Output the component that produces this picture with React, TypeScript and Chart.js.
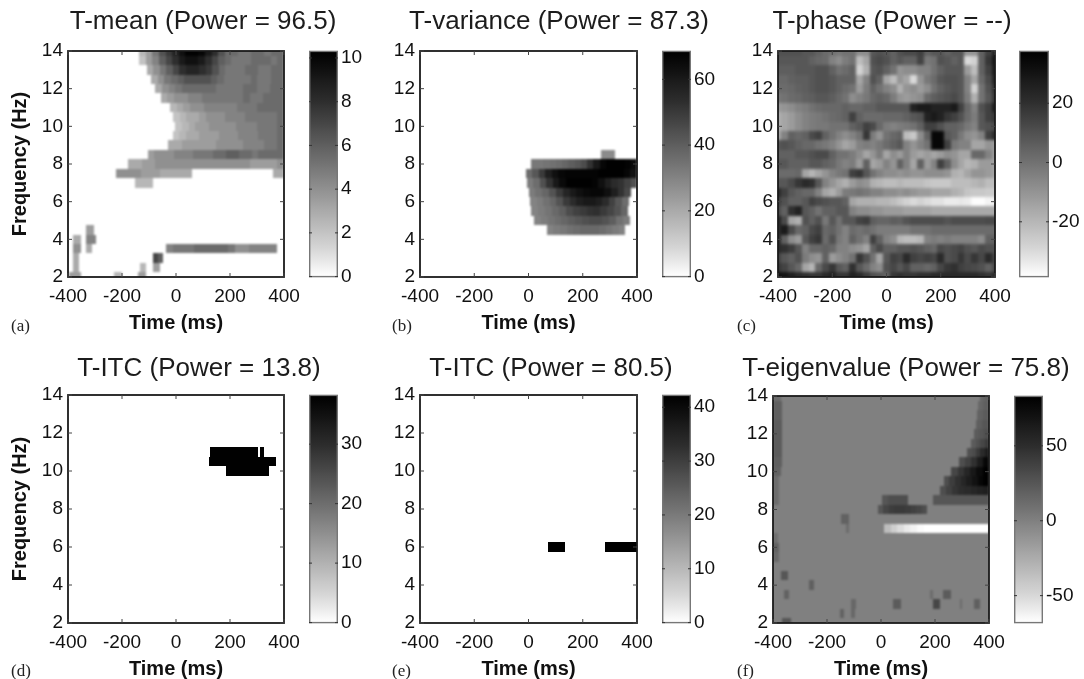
import React, { useEffect, useRef } from "react";
import { Chart, registerables } from "chart.js";

Chart.register(...registerables);

const FONT = "'Liberation Sans', Arial, sans-serif";
const INK = "#111";

const timeTicks = [-400, -200, 0, 200, 400];
const freqTicks = [2, 4, 6, 8, 10, 12, 14];

// span rows: [frequency Hz, from ms, to ms, ...cell values spread evenly over the span]
const meanSpans: number[][] = [
  [14, -136, 400, 2.5, 3.5, 5, 6.5, 7.5, 8.5, 9.5, 10.2, 10.2, 10, 9, 8, 6.5, 5.5, 5.5, 5, 5, 5.5, 5.5, 5, 5.5, 5.5],
  [13.5, -136, 400, 2, 3.5, 4.5, 6, 7, 8, 9, 9.5, 9.5, 9, 8, 7, 6, 5.5, 5, 5, 5, 5.5, 5.5, 5.5, 5, 5.5],
  [13, -108, 400, 3, 4, 5, 6, 7, 8, 8.5, 8.5, 8, 7.5, 6.5, 5.5, 5, 5, 5, 5.5, 5.5, 5, 5, 5.5, 5.5],
  [12.5, -93, 400, 3, 4, 5, 5.5, 6, 6.5, 6.5, 6.5, 6.5, 6, 5.5, 5, 5, 5, 5, 5.5, 5, 5, 5.5, 5.5],
  [12, -78, 400, 3, 4, 4.5, 5, 5.5, 5.5, 5.5, 5.5, 5.5, 5, 5, 5, 5, 5.5, 5.5, 5, 5, 5.5, 5.5],
  [11.5, -57, 400, 3, 3.5, 4, 4, 4.5, 4.5, 5, 5, 5, 5, 5, 5, 5.5, 5, 5, 5.5, 5.5, 5.5],
  [11, -22, 400, 2.5, 3, 3.5, 4, 4, 4.5, 4.5, 4.5, 4.5, 4.5, 5, 5, 5, 5.5, 5.5, 5.5, 5.5],
  [10.5, -10, 400, 2, 2.5, 3, 3, 3.5, 4, 4, 4, 4.5, 4.5, 4.5, 5, 5, 5, 5, 5, 5.5],
  [10, -4, 400, 2, 2.5, 3, 3.5, 3.5, 4, 4, 4, 4, 4.5, 4.5, 4.5, 5, 5, 5, 5.5],
  [9.5, -12, 400, 2, 2.5, 3, 3, 3.5, 3.5, 3.5, 4, 4, 4, 4.5, 4.5, 4.5, 5, 5, 5, 5.5],
  [9, -28, 400, 3, 3, 3.5, 3.5, 3.5, 3.5, 3.5, 4, 4, 4, 4, 4.5, 4.5, 4.5, 5, 5, 5.5],
  [8.5, -105, 400, 3.5, 4, 4, 4, 4.5, 4.5, 4.5, 5, 5, 5, 5.5, 5.5, 6, 6, 5.5, 5.5, 5, 5.5, 5.5, 5.5, 5.5],
  [8, -177, 400, 3, 3, 3.5, 3.5, 4, 4, 4, 4, 4, 4, 4, 4, 4, 4, 4, 4, 4, 4, 3.5, 3.5, 3.5, 3.5, 4],
  [7.5, -223, 58, 4, 4, 4, 4, 3.5, 3.5, 3.5, 3, 3, 3, 3, 3],
  [7.5, 358, 400, 3, 3],
  [7, -152, -86, 2.5, 2.5, 2.5],
  [4.5, -334, -302, 3.5],
  [4, -383, -352, 3],
  [4, -334, -298, 4.5],
  [3.5, -383, -352, 4],
  [3.5, -334, -312, 3],
  [3.5, -38, 375, 4.5, 5, 5, 5, 5.5, 5.5, 5.5, 5.5, 5.5, 5, 4, 4, 4.5, 4.5, 4.5, 4.5],
  [3, -383, -358, 3],
  [3, -86, -47, 7, 6],
  [2.5, -383, -358, 3],
  [2.5, -133, -111, 2.5],
  [2.5, -86, -59, 3.5],
  [2, -398, -352, 3.5],
  [2, -228, -201, 2.5],
  [2, -139, -111, 3.5],
];

const varianceSpans: number[][] = [
  [8.5, 267, 320, 28],
  [8, 9, 400, 33, 33, 34, 35, 36, 38, 40, 42, 45, 52, 60, 66, 68, 68, 68, 67, 64],
  [7.5, -11, 400, 36, 42, 50, 58, 63, 66, 67, 67, 67, 67, 67, 68, 68, 68, 68, 66, 62],
  [7, -6, 400, 32, 36, 44, 52, 60, 65, 68, 68, 68, 68, 67, 63, 58, 54, 52, 48, 44],
  [6.5, 0, 379, 32, 35, 38, 43, 50, 56, 60, 63, 65, 66, 66, 63, 58, 52, 46],
  [6, 6, 369, 30, 32, 35, 38, 43, 50, 54, 58, 60, 60, 58, 54, 48, 42, 36],
  [5.5, 10, 367, 30, 32, 34, 37, 40, 45, 48, 50, 52, 53, 50, 47, 43, 38],
  [5, 21, 373, 30, 32, 34, 36, 38, 40, 42, 44, 45, 45, 43, 40, 35, 32],
  [4.5, 68, 357, 30, 32, 33, 35, 36, 37, 37, 37, 36, 34, 32, 30],
];

const itcLowSpans: number[][] = [
  [11, 127, 304, 38],
  [11, 310, 326, 38],
  [10.5, 122, 372, 38],
  [10, 186, 345, 38],
];

const itcHighSpans: number[][] = [
  [6, 71, 135, 42.2],
  [6, 283, 400, 42.2],
];

const eigenSpans: number[][] = [
  [14, -400, -372, 12],
  [13.5, -400, -366, 20],
  [13, -400, -366, 20],
  [12.5, -400, -366, 22],
  [12, -400, -366, 22],
  [11.5, -400, -366, 22],
  [11, -400, -366, 22],
  [10.5, -400, -368, 20],
  [10, -400, -370, 18],
  [9.5, -400, -376, 12],
  [9, -400, -378, 12],
  [8.5, -400, -378, 12],
  [6.5, -400, -382, 10],
  [6, -400, -376, 18],
  [5.5, -400, -376, 14],
  [14, 365, 400, 15, 18],
  [13.5, 359, 400, 15, 20],
  [13, 356, 400, 18, 22],
  [12.5, 350, 400, 20, 25],
  [12, 343, 400, 22, 25, 30],
  [11.5, 335, 400, 22, 28, 35, 42],
  [11, 319, 400, 28, 32, 42, 52, 62],
  [10.5, 289, 400, 30, 38, 48, 62, 78],
  [10, 261, 400, 35, 45, 55, 65, 75, 83],
  [9.5, 232, 400, 30, 40, 48, 55, 62, 70, 78, 83],
  [9, 218, 400, 30, 38, 45, 50, 52, 55, 58, 60],
  [8.5, 2, 101, 25, 30, 30, 30],
  [8.5, 193, 400, 25, 25, 25, 25, 25, 25, 25, 25],
  [8, -12, 171, 25, 35, 40, 42, 42, 40, 38, 35, 30],
  [7.5, -149, -118, 18],
  [7, -128, -120, 12],
  [7, 12, 400, -35, -45, -52, -58, -62, -66, -68, -68, -68, -68, -68, -68, -68, -68, -68, -68],
  [4.5, -369, -345, 25],
  [4, -268, -250, 20],
  [3.5, -358, -342, 18],
  [3.5, 183, 193, 12],
  [3.5, 230, 261, 22],
  [3, -112, -94, 15],
  [3, 43, 73, 22],
  [3, 191, 220, 35],
  [3, 292, 299, 12],
  [3, 343, 365, 20],
  [2.5, -151, -137, 18],
  [2.5, -112, -96, 15],
  [2, -367, -332, 25],
];

// full grid: one row per 0.5 Hz from 14 Hz down to 2 Hz, one value every 25 ms
const phaseFreqs = [14, 13.5, 13, 12.5, 12, 11.5, 11, 10.5, 10, 9.5, 9, 8.5, 8, 7.5, 7, 6.5, 6, 5.5, 5, 4.5, 4, 3.5, 3, 2.5, 2];
const phaseTimes = [-400, -375, -350, -325, -300, -275, -250, -225, -200, -175, -150, -125, -100, -75, -50, -25, 0, 25, 50, 75, 100, 125, 150, 175, 200, 225, 250, 275, 300, 325, 350, 375, 400];
const phaseRows: number[][] = [
  [10, 10, 10, 10, 8, 8, 5, 2, 0, -2, 0, 0, -8, -8, 8, 10, 8, 5, 10, 12, 12, 15, 5, 8, 8, 5, 8, 8, -10, -10, 5, 15, 25],
  [8, 8, 8, 8, 8, 5, 3, 2, -5, -8, -3, 0, -22, -15, 10, 12, 10, 5, 8, 5, 5, 14, -2, 0, 10, 8, 5, 8, -30, -28, 5, 18, 30],
  [6, 6, 6, 8, 8, 8, 10, 10, 5, 0, 2, 5, -28, -18, 8, 10, 5, 0, -10, -8, -8, -5, -5, 0, 5, 8, 8, 8, -12, -22, 5, 15, 28],
  [3, 3, 5, 6, 6, 8, 10, 10, 8, 5, 5, 5, -15, -5, 10, 5, -15, -22, -10, -15, -30, -10, -2, 2, 8, 10, 10, 8, -5, -15, 3, 12, 25],
  [2, 2, 3, 5, 6, 8, 10, 10, 8, 5, 2, 0, -12, -3, 5, 0, -5, -8, -18, -10, -8, -12, -8, 0, 5, 8, 10, 8, -5, -28, 0, 10, 20],
  [-2, 0, 2, 3, 5, 6, 8, 8, 6, 3, 0, -8, -5, -2, 3, 5, 3, -3, -10, -12, -10, -8, 2, 6, 8, 10, 12, 8, -3, -18, 0, 8, 18],
  [-12, -10, -8, -5, -3, 0, 2, 3, 3, 3, 5, 3, 3, 5, 5, 8, 8, 8, 8, 8, 25, 28, 28, 25, 25, 25, 28, 15, 3, -5, 10, 15, 28],
  [-18, -15, -12, -8, -5, -3, -2, 0, 2, 3, 5, 15, 5, 2, 2, 2, 3, 3, 3, 5, 8, 10, 25, 28, 25, 18, 15, 10, 2, -3, 8, 15, 18],
  [-18, -15, -12, -8, -5, -3, -2, -2, 0, 0, 0, 5, 8, 15, 12, 3, -3, -5, -3, -2, 0, 5, 15, 15, 10, 5, 5, 3, -2, -5, 8, 10, 12],
  [-15, -5, 5, 3, 5, 12, 15, 5, 0, -5, -8, -5, 0, 18, -3, -10, 0, 3, 5, -22, -25, -8, 5, 35, 35, 8, 5, -2, -8, -10, -5, 15, 22],
  [8, 10, 8, 5, 3, 3, 0, -2, -5, -10, -15, -12, -5, -3, -5, -2, 2, 5, 8, -5, -10, -5, 0, 35, 35, 15, -2, -5, -5, -15, -15, -10, -12],
  [5, 5, 5, 8, 8, 10, 12, 12, 5, 0, 0, -3, -8, -15, -10, -3, -15, -8, -12, -5, -12, -15, -12, -15, -12, -8, -10, -15, -15, 3, 3, -5, -12],
  [8, 8, 5, 5, 5, 8, 8, 5, 3, -2, -5, -3, -12, 5, -15, -12, -5, -10, 5, -5, -15, 5, -12, -5, 15, 5, -8, -15, -20, -18, -12, -12, -15],
  [2, 2, 2, 3, -15, -20, -15, -10, -5, -2, 0, 15, 18, 8, 0, -5, -8, -8, -10, -8, -10, -10, -8, -8, -8, -10, -18, -20, -15, -10, -10, -12, -15],
  [8, 8, 12, 18, 22, 20, 8, -5, -10, -15, -18, -12, -8, -10, -18, -20, -22, -22, -20, -22, -22, -22, -24, -25, -25, -25, -22, -22, -22, -20, -18, -22, -22],
  [22, 15, 8, 5, 3, 3, -5, -15, -18, -12, -3, -2, 0, -2, -5, -5, -8, -8, -10, -8, -10, -12, -12, -15, -15, -15, -18, -20, -24, -25, -25, -26, -26],
  [15, 10, 5, 5, 8, 15, 12, 10, 8, 8, 5, -15, -18, -18, -18, -20, -20, -22, -25, -28, -30, -28, -30, -32, -32, -34, -34, -33, -34, -38, -38, -36, -35],
  [12, 5, 20, 25, 8, 5, 0, 5, 5, 8, 8, -5, -8, -8, -10, -10, -12, -12, -12, -14, -14, -14, -14, -16, -16, -16, -16, -16, -16, -16, -16, -16, -16],
  [25, 12, -15, -18, 10, 5, 10, -2, 8, 0, 8, 8, 14, 16, 6, 4, 4, 6, 5, 9, 11, 11, 11, 11, 11, 9, 11, 11, 11, 11, 11, 12, 12],
  [22, 28, 12, 3, 5, 12, 15, 3, 5, 0, -5, 2, 0, 2, 0, -3, -3, -3, -3, -3, 0, 0, 0, 2, 2, 2, 2, 2, 2, 2, 2, 2, 2],
  [22, 5, -8, -12, 8, 15, 18, 2, 10, -2, -5, 5, 0, -5, 15, 5, -5, -8, -20, -22, -22, -20, -5, -3, -5, -3, -5, -5, -5, -5, -8, 5, 5],
  [22, 20, 16, 8, -5, 3, 3, 5, 3, -5, -5, -8, -10, -15, 5, 12, 5, 5, 8, 8, 10, 8, 5, 3, 12, 10, 12, 14, 10, 8, 12, 10, 10],
  [14, 8, 5, 10, -3, -8, -10, 5, -12, -8, -5, 0, 18, 10, 0, -15, 8, 15, 13, 22, 15, 13, 15, 13, 22, 10, 12, 18, 12, 18, 13, 22, 14],
  [18, 14, 8, 3, -15, -20, 3, 12, 18, 8, 5, 20, 8, 2, -5, -8, 10, 13, 8, 13, 5, 5, 3, 5, 13, 18, 20, 15, 13, 12, 10, 5, 12],
  [32, 30, 26, 22, 20, 18, 18, 22, 25, 18, 18, 25, 22, 16, 10, 8, 5, 18, 20, 18, 18, 20, 20, 22, 22, 22, 22, 22, 22, 22, 20, 18, 22],
];

type Cell = { x: number; y: number; x0: number; x1: number; v: number };

function cellsFromSpans(spans: number[][]): Cell[] {
  const out: Cell[] = [];
  for (const [freq, from, to, ...values] of spans) {
    const w = (to - from) / values.length;
    values.forEach((v, i) => {
      const x0 = from + i * w;
      out.push({ x: x0 + w / 2, y: freq, x0, x1: x0 + w, v });
    });
  }
  return out;
}

function cellsFromGrid(freqs: number[], times: number[], rows: number[][]): Cell[] {
  const out: Cell[] = [];
  rows.forEach((row, r) =>
    row.forEach((v, c) => out.push({ x: times[c], y: freqs[r], x0: times[c] - 12.5, x1: times[c] + 12.5, v }))
  );
  return out;
}

const grayStops = [
  [0, 255],
  [0.12, 215],
  [0.45, 128],
  [0.78, 45],
  [1, 0],
];
function grayAt(t: number): string {
  const u = Math.min(1, Math.max(0, t));
  for (let i = 1; i < grayStops.length; i++) {
    if (u <= grayStops[i][0]) {
      const [a, ga] = grayStops[i - 1];
      const [b, gb] = grayStops[i];
      const g = Math.round(ga + ((u - a) / (b - a)) * (gb - ga));
      return `rgb(${g},${g},${g})`;
    }
  }
  return "rgb(0,0,0)";
}

type Panel = {
  title: string;
  letter: string;
  letterX: number;
  letterY: number;
  plot: [number, number, number, number];
  bar: [number, number];
  titleCx: number;
  titleCy: number;
  yTitle: boolean;
  range: [number, number];
  barTicks: number[];
  cells: Cell[];
  background: number;
  smooth: number;
};

const panels: Panel[] = [
  { title: "T-mean (Power = 96.5)", letter: "(a)", letterX: 11, letterY: 326, plot: [68, 284, 51, 277], bar: [309, 338], titleCx: 203, titleCy: 21, yTitle: true, range: [0, 10.3], barTicks: [0, 2, 4, 6, 8, 10], cells: cellsFromSpans(meanSpans), background: 0, smooth: 0.9 },
  { title: "T-variance (Power = 87.3)", letter: "(b)", letterX: 392, letterY: 326, plot: [420, 637, 51, 277], bar: [662, 691], titleCx: 559, titleCy: 21, yTitle: false, range: [0, 68.5], barTicks: [0, 20, 40, 60], cells: cellsFromSpans(varianceSpans), background: 0, smooth: 0.9 },
  { title: "T-phase (Power = --)", letter: "(c)", letterX: 737, letterY: 326, plot: [778, 995, 51, 277], bar: [1019, 1049], titleCx: 892, titleCy: 21, yTitle: false, range: [-38.5, 37.5], barTicks: [-20, 0, 20], cells: cellsFromGrid(phaseFreqs, phaseTimes, phaseRows), background: 0, smooth: 1.6 },
  { title: "T-ITC (Power = 13.8)", letter: "(d)", letterX: 11, letterY: 671, plot: [68, 284, 395, 623], bar: [309, 338], titleCx: 199, titleCy: 368, yTitle: true, range: [0, 38.2], barTicks: [0, 10, 20, 30], cells: cellsFromSpans(itcLowSpans), background: 0, smooth: 0.5 },
  { title: "T-ITC (Power = 80.5)", letter: "(e)", letterX: 392, letterY: 671, plot: [420, 637, 395, 623], bar: [662, 691], titleCx: 551, titleCy: 368, yTitle: false, range: [0, 42.2], barTicks: [0, 10, 20, 30, 40], cells: cellsFromSpans(itcHighSpans), background: 0, smooth: 0.5 },
  { title: "T-eigenvalue (Power = 75.8)", letter: "(f)", letterX: 737, letterY: 671, plot: [773, 989, 396, 623], bar: [1014, 1043], titleCx: 906, titleCy: 368, yTitle: false, range: [-68, 83], barTicks: [-50, 0, 50], cells: cellsFromSpans(eigenSpans), background: 0, smooth: 0.9 },
];

const heatPlugin = {
  id: "heat",
  beforeDatasetsDraw(chart: any, _a: any, opts: any) {
    const { ctx, chartArea: ca, scales, width, height } = chart;
    const [lo, hi] = opts.range as [number, number];
    const off = document.createElement("canvas");
    off.width = width;
    off.height = height;
    const o = off.getContext("2d")!;
    o.fillStyle = grayAt((opts.background - lo) / (hi - lo));
    o.fillRect(0, 0, width, height);
    for (const c of chart.data.datasets[0].data as Cell[]) {
      const x0 = Math.round(scales.x.getPixelForValue(c.x0));
      const x1 = Math.round(scales.x.getPixelForValue(c.x1));
      const y0 = Math.round(scales.y.getPixelForValue(c.y + 0.25));
      const y1 = Math.round(scales.y.getPixelForValue(c.y - 0.25));
      o.fillStyle = grayAt((c.v - lo) / (hi - lo));
      o.fillRect(x0, y0, x1 - x0, y1 - y0);
    }
    ctx.save();
    ctx.beginPath();
    ctx.rect(ca.left, ca.top, ca.right - ca.left, ca.bottom - ca.top);
    ctx.clip();
    ctx.filter = `blur(${opts.smooth}px)`;
    ctx.drawImage(off, 0, 0);
    ctx.filter = "none";
    ctx.restore();
  },
};

const framePlugin = {
  id: "frame",
  afterDraw(chart: any) {
    const { ctx, chartArea: ca, scales } = chart;
    ctx.save();
    ctx.strokeStyle = "#1a1a1a";
    ctx.lineWidth = 1.8;
    ctx.strokeRect(ca.left, ca.top, ca.right - ca.left, ca.bottom - ca.top);
    ctx.lineWidth = 1;
    ctx.strokeStyle = "#444";
    ctx.beginPath();
    for (const t of scales.x.ticks) {
      const p = scales.x.getPixelForValue(t.value);
      ctx.moveTo(p, ca.bottom);
      ctx.lineTo(p, ca.bottom - 4);
      ctx.moveTo(p, ca.top);
      ctx.lineTo(p, ca.top + 4);
    }
    for (const t of scales.y.ticks) {
      const p = scales.y.getPixelForValue(t.value);
      ctx.moveTo(ca.left, p);
      ctx.lineTo(ca.left + 4, p);
      ctx.moveTo(ca.right, p);
      ctx.lineTo(ca.right - 4, p);
    }
    ctx.stroke();
    ctx.restore();
  },
};

const barPlugin = {
  id: "colorbar",
  beforeDatasetsDraw(chart: any) {
    const { ctx, chartArea: ca } = chart;
    const g = ctx.createLinearGradient(0, ca.bottom, 0, ca.top);
    for (let i = 0; i <= 40; i++) g.addColorStop(i / 40, grayAt(i / 40));
    ctx.fillStyle = g;
    ctx.fillRect(ca.left, ca.top, ca.right - ca.left, ca.bottom - ca.top);
  },
  afterDraw(chart: any) {
    const { ctx, chartArea: ca, scales } = chart;
    ctx.save();
    ctx.strokeStyle = "#777";
    ctx.lineWidth = 1.4;
    ctx.strokeRect(ca.left + 0.7, ca.top, ca.right - ca.left - 1.4, ca.bottom - ca.top);
    ctx.strokeStyle = "#333";
    ctx.lineWidth = 1;
    ctx.beginPath();
    for (const t of scales.y.ticks) {
      const p = scales.y.getPixelForValue(t.value);
      ctx.moveTo(ca.left, p);
      ctx.lineTo(ca.left + 3, p);
      ctx.moveTo(ca.right, p);
      ctx.lineTo(ca.right - 3, p);
    }
    ctx.stroke();
    ctx.restore();
  },
};

function explicitTicks(values: number[]) {
  return (scale: any) => {
    scale.ticks = values.map((value) => ({ value }));
  };
}

function makePanelChart(canvas: HTMLCanvasElement, p: Panel, left: number, top: number, w: number) {
  const [pl, pr, pt] = p.plot;
  const tickFont = { family: FONT, size: 19 };
  return new Chart(canvas, {
    type: "scatter",
    data: {
      datasets: [{ label: p.title, data: p.cells as any, pointRadius: 0, showLine: false }],
    },
    plugins: [heatPlugin, framePlugin],
    options: {
      animation: false,
      responsive: false,
      events: [],
      layout: { padding: 0 },
      plugins: {
        legend: { display: false },
        tooltip: { enabled: false },
        title: {
          display: true,
          text: p.title,
          color: "#1c1c1c",
          font: { family: FONT, size: 26, weight: "normal", lineHeight: 1.2 },
          padding: { top: p.titleCy - 15 - top, bottom: pt - (p.titleCy + 15) - 1.2 },
        },
        heat: { range: p.range, background: p.background, smooth: p.smooth },
      } as any,
      scales: {
        x: {
          type: "linear",
          min: -400,
          max: 400,
          afterBuildTicks: explicitTicks(timeTicks),
          afterFit: (s: any) => {
            s.height = 60;
          },
          grid: { display: false, drawTicks: false },
          border: { display: false },
          ticks: { color: INK, font: tickFont, padding: 8, maxRotation: 0, autoSkip: false },
          title: {
            display: true,
            text: "Time (ms)",
            color: INK,
            font: { family: FONT, size: 20, weight: "bold", lineHeight: 1.2 },
            padding: { top: 0, bottom: 2 },
          },
        },
        y: {
          type: "linear",
          min: 2,
          max: 14,
          afterBuildTicks: explicitTicks(freqTicks),
          afterFit: (s: any) => {
            s.width = pl - left;
          },
          grid: { display: false, drawTicks: false },
          border: { display: false },
          ticks: { color: INK, font: tickFont, padding: 5, autoSkip: false },
          title: {
            display: p.yTitle,
            text: "Frequency (Hz)",
            color: INK,
            font: { family: FONT, size: 20, weight: "bold", lineHeight: 1.2 },
            padding: { top: 0, bottom: 0 },
          },
        },
        spacer: {
          type: "linear",
          position: "right",
          display: true,
          afterFit: (s: any) => {
            s.width = left + w - pr;
          },
          grid: { display: false, drawTicks: false },
          border: { display: false },
          ticks: { display: false },
        },
      },
    } as any,
  });
}

function makeBarChart(canvas: HTMLCanvasElement, p: Panel) {
  return new Chart(canvas, {
    type: "scatter",
    data: { datasets: [{ label: "scale", data: [], pointRadius: 0 }] },
    plugins: [barPlugin],
    options: {
      animation: false,
      responsive: false,
      events: [],
      layout: { padding: { left: 0, right: 0, top: 14, bottom: 14 } },
      plugins: { legend: { display: false }, tooltip: { enabled: false } },
      scales: {
        x: { type: "linear", display: false, min: 0, max: 1 },
        y: {
          type: "linear",
          position: "right",
          min: p.range[0],
          max: p.range[1],
          afterBuildTicks: explicitTicks(p.barTicks),
          afterFit: (s: any) => {
            s.width = 40;
          },
          grid: { display: false, drawTicks: false },
          border: { display: false },
          ticks: { color: INK, font: { family: FONT, size: 19 }, padding: 3, autoSkip: false },
        },
      },
    } as any,
  });
}

function PanelView({ p }: { p: Panel }) {
  const main = useRef<HTMLCanvasElement>(null);
  const bar = useRef<HTMLCanvasElement>(null);
  const [pl, pr, pt, pb] = p.plot;
  const half = Math.max(p.titleCx - pl + (p.yTitle ? 60 : 45), pr - p.titleCx + 30);
  const left = Math.round(p.titleCx - half);
  const width = Math.round(half * 2);
  const top = p.titleCy - 17;
  const height = pb + 60 - top;

  useEffect(() => {
    const a = makePanelChart(main.current!, p, left, top, width);
    const b = makeBarChart(bar.current!, p);
    return () => {
      a.destroy();
      b.destroy();
    };
  }, []);

  return (
    <>
      <canvas ref={main} width={width} height={height} style={{ position: "absolute", left, top, width, height }} />
      <canvas
        ref={bar}
        width={p.bar[1] - p.bar[0] + 40}
        height={pb - pt + 28}
        style={{ position: "absolute", left: p.bar[0], top: pt - 14, width: p.bar[1] - p.bar[0] + 40, height: pb - pt + 28 }}
      />
      <span
        style={{
          position: "absolute",
          left: p.letterX,
          top: p.letterY - 11,
          font: "17px/22px 'Liberation Serif', serif",
          color: "#222",
        }}
      >
        {p.letter}
      </span>
    </>
  );
}

export default function App() {
  return (
    <div
      style={{
        position: "absolute",
        left: 0,
        top: 0,
        width: 1084,
        height: 679,
        overflow: "hidden",
        background: "#fff",
        filter: "blur(0.5px)",
      }}
    >
      {panels.map((p) => (
        <PanelView key={p.letter} p={p} />
      ))}
    </div>
  );
}
